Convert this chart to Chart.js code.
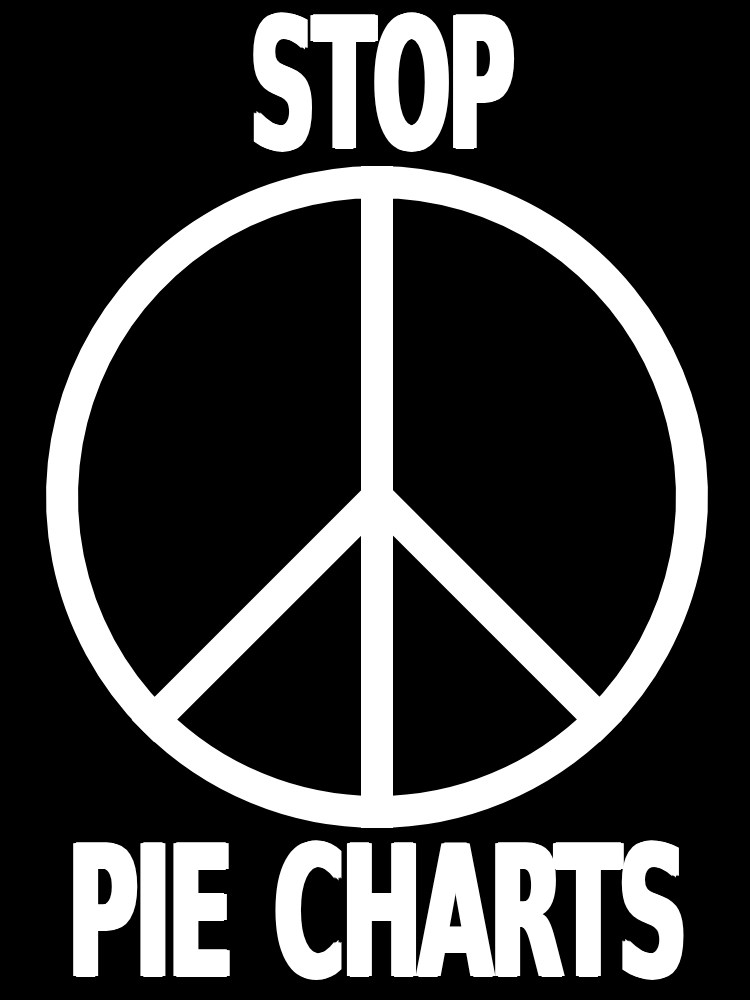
<!DOCTYPE html>
<html>
<head>
<meta charset="utf-8">
<title>Stop Pie Charts</title>
<style>
  html, body { margin: 0; padding: 0; background: #000; }
  #wrap { position: relative; width: 750px; height: 1000px; overflow: hidden; background: #000; }
  #chart { position: absolute; left: 0; top: 0; }
  .word {
    position: absolute; color: #fff; white-space: nowrap; line-height: 1;
    font-family: "DejaVu Sans", sans-serif; font-weight: 700; font-stretch: condensed;
    font-size: 182px;
    -webkit-text-stroke: 2px #fff; transform-origin: 0 0;
    text-shadow: 2px 0 #fff, -2px 0 #fff, 4px 0 #fff, -4px 0 #fff, 6px 0 #fff, -6px 0 #fff;
  }
  #top { left: 250px; top: -6px; transform: scaleX(0.555); letter-spacing: -4px; }
  #bottom { left: 68px; top: 822px; transform: scaleX(0.58); letter-spacing: -4px; word-spacing: 22px; }
</style>
<script src="https://cdn.jsdelivr.net/npm/chart.js"></script>
</head>
<body>
<div id="wrap">
  <canvas id="chart" width="750" height="1000"></canvas>
  <div class="word" id="top">STOP</div>
  <div class="word" id="bottom">PIE CHARTS</div>
</div>
<script>
// the peace sign is just a four slice pie
const categories = ["A", "B", "C", "D"];
const values = [135, 45, 45, 135];

new Chart(document.getElementById("chart"), {
  type: "pie",
  data: {
    labels: categories,
    datasets: [{
      data: values,
      backgroundColor: "#000000",
      borderColor: "#ffffff",
      borderWidth: 32,
      borderAlign: "center",
      borderJoinStyle: "miter",
      hoverOffset: 0
    }]
  },
  options: {
    responsive: false,
    animation: false,
    devicePixelRatio: 1,
    layout: { padding: { left: 46, right: 42, top: 166, bottom: 172 } },
    plugins: { legend: { display: false }, tooltip: { enabled: false } }
  }
});
</script>
</body>
</html>
